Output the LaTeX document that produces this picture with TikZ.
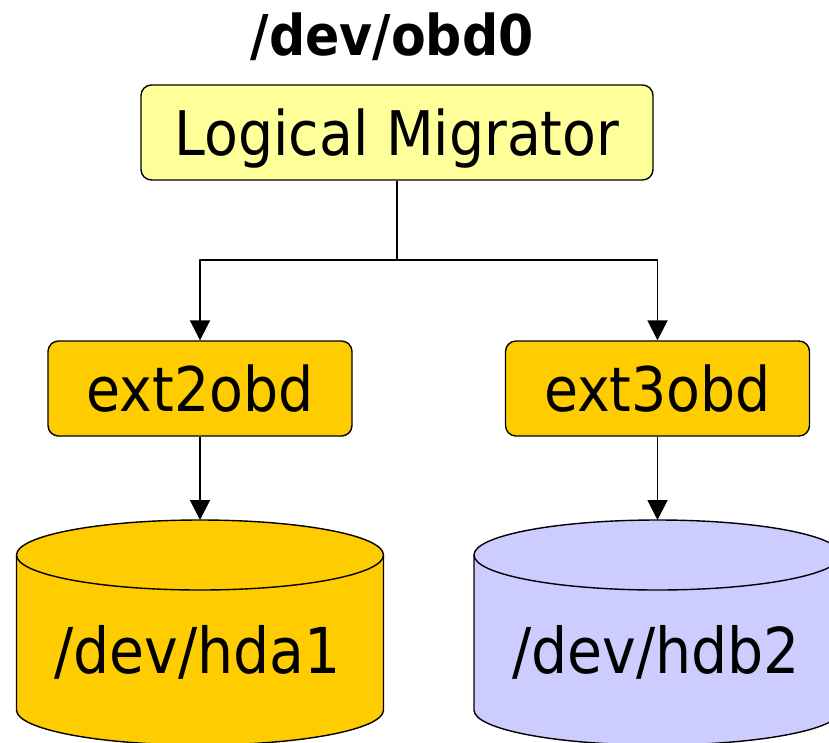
\documentclass[tikz,border=0pt]{standalone}
\usepackage{fontspec}
\setmainfont{DejaVu Sans Condensed}
\usetikzlibrary{arrows.meta}

\definecolor{paleyellow}{HTML}{FFFF99}
\definecolor{gold}{HTML}{FFCC00}
\definecolor{lavender}{HTML}{CCCCFF}

\begin{document}
\begin{tikzpicture}[line join=round]

% --- Styles ---
\tikzset{
    box/.style={
        draw=black,
        line width=0.8pt,
        rounded corners=6pt,
        minimum height=1.9cm,
        inner sep=0pt,
        text height=0.9cm,
        text depth=0pt,
        font=\fontsize{35}{40}\selectfont
    },
    topbox/.style={
        box,
        fill=paleyellow,
        minimum width=10.24cm
    },
    fsbox/.style={
        box,
        fill=gold,
        minimum width=6.08cm
    },
    disklabel/.style={
        anchor=base,
        inner sep=0pt,
        font=\fontsize{36}{41}\selectfont
    },
    disk/.style={
        draw=black,
        line width=0.8pt
    },
    link/.style={
        draw=black,
        line width=1.1pt
    },
    linkarrow/.style={
        link,
        -{Triangle[length=0.4cm, width=0.4cm]}
    }
}

\useasboundingbox (0,0) rectangle (16.58,-14.84);

% --- Title ---
\node[anchor=base, inner sep=0pt, font=\fontsize{32}{37}\selectfont\bfseries]
    (title) at (7.84,-1.12) {/dev/obd0};

% --- Boxes ---
\node[topbox] (logic) at (7.94,-2.65) {Logical Migrator};
\node[fsbox] (ext2obd) at (4.00,-7.77) {ext2obd};
\node[fsbox] (ext3obd) at (13.15,-7.77) {ext3obd};

% --- Disks ---
\pgfmathsetmacro{\rx}{3.67}
\pgfmathsetmacro{\ry}{0.70}
\pgfmathsetmacro{\ytop}{-11.10}
\pgfmathsetmacro{\ybot}{-14.20}

\foreach \cx/\col in {4.00/gold, 13.15/lavender}{
    \draw[disk, fill=\col]
        ({\cx-\rx},\ytop) -- ({\cx-\rx},\ybot)
        arc[start angle=180, end angle=360, x radius=\rx, y radius=\ry]
        -- ({\cx+\rx},\ytop)
        arc[start angle=0, end angle=180, x radius=\rx, y radius=\ry]
        -- cycle;
    \draw[disk]
        ({\cx-\rx},\ytop)
        arc[start angle=180, end angle=360, x radius=\rx, y radius=\ry];
}

\coordinate (hda1top) at (4.00,{\ytop+\ry});
\coordinate (hdb2top) at (13.15,{\ytop+\ry});

\node[disklabel] (hda1) at (3.95,-13.46) {/dev/hda1};
\node[disklabel] (hdb2) at (13.12,-13.46) {/dev/hdb2};

% --- Connectors ---
\coordinate (split) at (7.94,-5.20);

\draw[link] (logic.south) -- (split);
\draw[linkarrow] (split) -| (ext2obd.north);
\draw[linkarrow] (split) -| (ext3obd.north);

\draw[linkarrow] (ext2obd.south) -- (hda1top);
\draw[linkarrow] (ext3obd.south) -- (hdb2top);

\end{tikzpicture}
\end{document}
